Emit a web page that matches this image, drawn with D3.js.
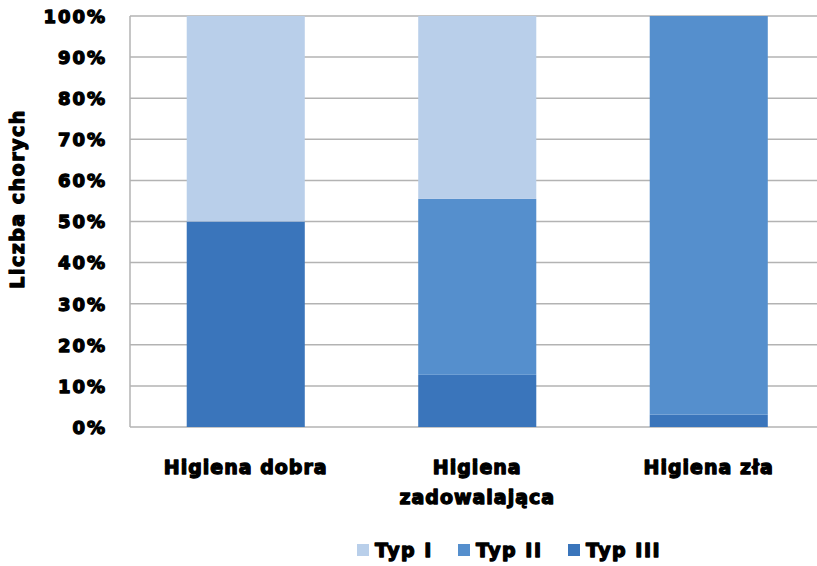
<!DOCTYPE html>
<html>
<head>
<meta charset="utf-8">
<script src="https://cdn.jsdelivr.net/npm/d3@7"></script>
<style>
  body { margin: 0; background: #fff; }
  svg { display: block; }
  .lbl { font-family: "DejaVu Sans", sans-serif; font-weight: bold; fill: #000; stroke: #000; stroke-width: 1.3px; stroke-linejoin: round; }
</style>
</head>
<body>
<svg id="chart" width="817" height="566"></svg>
<script>
// Share of patients by hygiene level and type
const categories = ["Higiena dobra", "Higiena zadowalająca", "Higiena zła"];
const categoryLines = [["Higiena dobra"], ["Higiena", "zadowalająca"], ["Higiena zła"]];
const series = ["Typ I", "Typ II", "Typ III"];
const typI   = [50.0, 44.5, 0.0];
const typII  = [0.0, 42.8, 97.0];
const typIII = [50.0, 12.7, 3.0];
const yTicks = [0, 10, 20, 30, 40, 50, 60, 70, 80, 90, 100];
const colors = { "Typ I": "#b9cfea", "Typ II": "#558fcd", "Typ III": "#3a75bb" };

const rows = categories.map((c, i) => ({
  category: c, "Typ III": typIII[i], "Typ II": typII[i], "Typ I": typI[i]
}));

const svg = d3.select("#chart");
const plotLeft = 130, plotTop = 16, plotBottom = 427, plotRight = 824.5;

const x = d3.scaleBand().domain(categories).range([plotLeft, plotRight]).paddingInner(0.49).paddingOuter(0.245);
const y = d3.scaleLinear().domain([0, 100]).range([plotBottom, plotTop]);

// gridlines
svg.append("g").selectAll("line").data(yTicks).join("line")
  .attr("x1", plotLeft).attr("x2", plotRight)
  .attr("y1", d => y(d)).attr("y2", d => y(d))
  .attr("stroke", "#b3b3b3").attr("stroke-width", 1.5);

// y axis line
svg.append("line").attr("x1", plotLeft).attr("x2", plotLeft).attr("y1", plotTop).attr("y2", plotBottom)
  .attr("stroke", "#b3b3b3").attr("stroke-width", 1.5);

// stacked bars, bottom-up: Typ III, Typ II, Typ I
const stack = d3.stack().keys(["Typ III", "Typ II", "Typ I"]);
const stacked = stack(rows);
svg.append("g").selectAll("g").data(stacked).join("g")
  .attr("fill", d => colors[d.key])
  .selectAll("rect").data(d => d).join("rect")
  .attr("x", d => x(d.data.category))
  .attr("width", x.bandwidth())
  .attr("y", d => y(d[1]))
  .attr("height", d => y(d[0]) - y(d[1]));

// y tick labels
const yAxis = d3.axisLeft(y).tickValues(yTicks).tickFormat(d => d + "%").tickSize(0).tickPadding(0);
const ya = svg.append("g").attr("transform", `translate(${plotLeft - 23},0)`).call(yAxis);
ya.select(".domain").remove();
ya.attr("font-family", null).attr("font-size", null);
ya.selectAll("text").attr("class", "lbl").attr("font-size", 18).attr("dy", "0.35em")
  .attr("letter-spacing", 2);

// category labels
const cat = svg.append("g").selectAll("text").data(categories).join("text")
  .attr("class", "lbl").attr("font-size", 19).attr("letter-spacing", 1)
  .attr("text-anchor", "middle")
  .attr("x", d => x(d) + x.bandwidth() / 2).attr("y", 474);
cat.selectAll("tspan").data((d, i) => categoryLines[i]).join("tspan")
  .attr("x", function () { return d3.select(this.parentNode).attr("x"); })
  .attr("dy", (d, i) => i === 0 ? 0 : 30)
  .text(d => d);

// y axis title
svg.append("text").attr("class", "lbl").attr("font-size", 19).attr("letter-spacing", 1.5)
  .attr("text-anchor", "middle")
  .attr("transform", `translate(24,199) rotate(-90)`).text("Liczba chorych");

// legend
const legendX = [357, 458, 568];
const lg = svg.append("g").selectAll("g").data(series).join("g")
  .attr("transform", (d, i) => `translate(${legendX[i]},550)`);
lg.append("rect").attr("x", 0).attr("y", -6).attr("width", 12).attr("height", 12)
  .attr("fill", d => colors[d]);
lg.append("text").attr("class", "lbl").attr("font-size", 19).attr("letter-spacing", 1.5)
  .attr("x", 18).attr("dy", "0.35em")
  .text(d => d);
</script>
</body>
</html>
